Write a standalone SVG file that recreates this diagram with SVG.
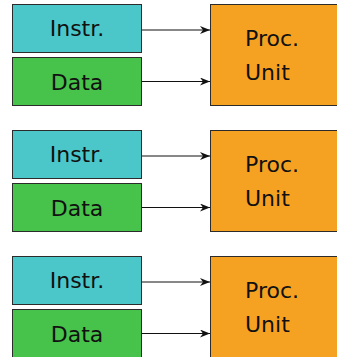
<svg xmlns="http://www.w3.org/2000/svg" width="337" height="357" viewBox="0 0 337 357">
  <style>
    .box { stroke: #2b2b2b; stroke-width: 1; }
    .instr { fill: #4bc6c9; }
    .data { fill: #47c24a; }
    .proc { fill: #f5a222; }
    .lbl { font-family: "DejaVu Sans", Verdana, sans-serif; font-size: 22px; fill: #111; }
    .mid { text-anchor: middle; }
    .wire { stroke: #111; stroke-width: 1; fill: none; marker-end: url(#head); }
  </style>
  <defs>
    <marker id="head" viewBox="0 0 10 8" refX="10" refY="4" markerWidth="10" markerHeight="8" markerUnits="userSpaceOnUse" orient="auto">
      <path d="M0,0 L10,4 L0,8 L3,4 Z" fill="#111"/>
    </marker>
  </defs>

  <!-- row 1 -->
  <g id="instr1"><rect class="box instr" x="12.5" y="4.5" width="129" height="48"/><text class="lbl mid" x="77" y="36">Instr.</text></g>
  <g id="data1"><rect class="box data" x="12.5" y="57.5" width="129" height="48"/><text class="lbl mid" x="77" y="90">Data</text></g>
  <g id="proc1"><rect class="box proc" x="210.5" y="4.5" width="140" height="101"/><text class="lbl" x="245" y="46">Proc.</text><text class="lbl" x="245" y="80">Unit</text></g>

  <!-- row 2 -->
  <g id="instr2"><rect class="box instr" x="12.5" y="130.5" width="129" height="48"/><text class="lbl mid" x="77" y="162">Instr.</text></g>
  <g id="data2"><rect class="box data" x="12.5" y="183.5" width="129" height="48"/><text class="lbl mid" x="77" y="216">Data</text></g>
  <g id="proc2"><rect class="box proc" x="210.5" y="130.5" width="140" height="101"/><text class="lbl" x="245" y="172">Proc.</text><text class="lbl" x="245" y="206">Unit</text></g>

  <!-- row 3 -->
  <g id="instr3"><rect class="box instr" x="12.5" y="256.5" width="129" height="48"/><text class="lbl mid" x="77" y="288">Instr.</text></g>
  <g id="data3"><rect class="box data" x="12.5" y="309.5" width="129" height="60"/><text class="lbl mid" x="77" y="342">Data</text></g>
  <g id="proc3"><rect class="box proc" x="210.5" y="256.5" width="140" height="120"/><text class="lbl" x="245" y="298">Proc.</text><text class="lbl" x="245" y="332">Unit</text></g>

  <g id="connectors">
    <line class="wire" x1="142" y1="30" x2="210" y2="30"/>
    <line class="wire" x1="142" y1="81.5" x2="210" y2="81.5"/>
    <line class="wire" x1="142" y1="156" x2="210" y2="156"/>
    <line class="wire" x1="142" y1="207.5" x2="210" y2="207.5"/>
    <line class="wire" x1="142" y1="282" x2="210" y2="282"/>
    <line class="wire" x1="142" y1="333.5" x2="210" y2="333.5"/>
  </g>
</svg>
